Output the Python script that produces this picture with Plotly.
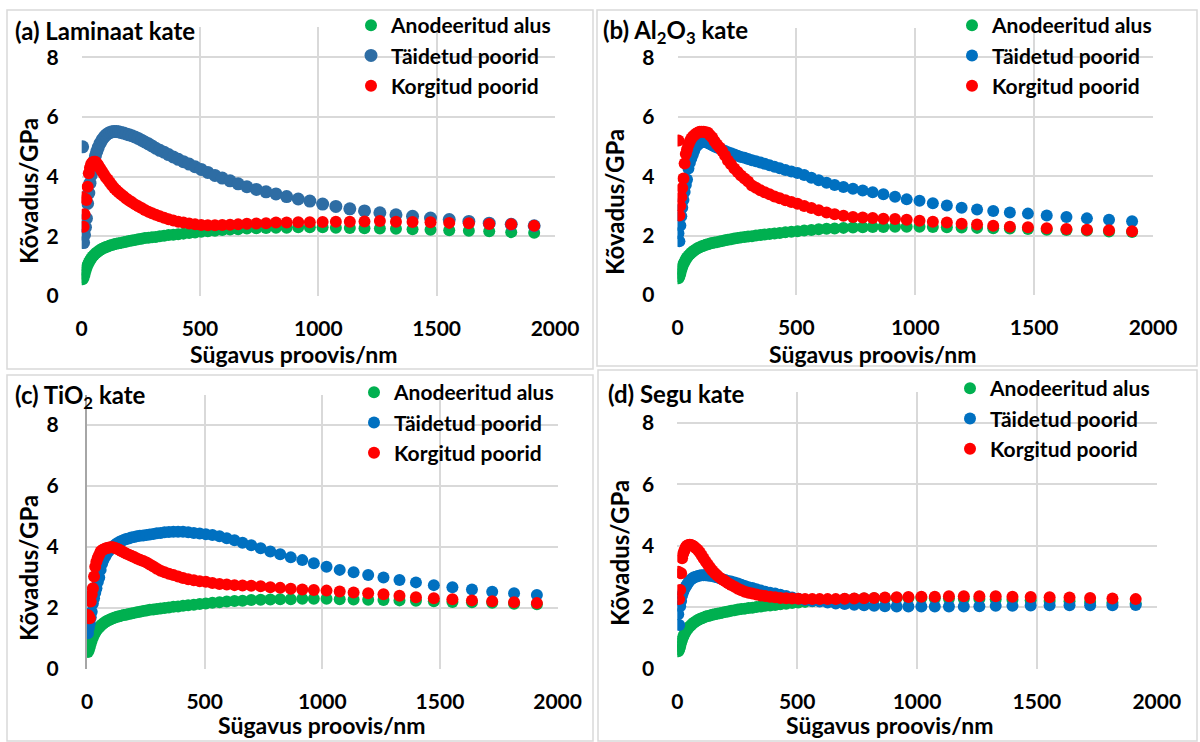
import plotly.graph_objects as go

# ---------------- data ----------------
depth = [4, 8, 12, 16, 20, 25, 30, 35, 40, 46, 52, 58, 64, 70, 78, 86, 94, 102, 110, 119,
         128, 137, 146, 156, 166, 177, 188, 200, 212, 225, 239, 253, 267, 282, 297, 313, 330, 348, 367, 387,
         408, 430, 454, 479, 505, 533, 563, 594, 627, 661, 698, 738, 779, 821, 866, 915, 964, 1018, 1074, 1133,
         1195, 1260, 1328, 1398, 1474, 1553, 1636, 1722, 1815, 1912]

anodeeritud = [0.56, 0.62, 0.72, 0.84, 0.94, 1.04, 1.12, 1.20, 1.26, 1.32, 1.37, 1.42, 1.46, 1.50, 1.54, 1.58, 1.61, 1.64, 1.66, 1.69,
               1.71, 1.73, 1.75, 1.77, 1.78, 1.80, 1.82, 1.84, 1.86, 1.88, 1.90, 1.92, 1.94, 1.95, 1.97, 1.98, 2.00, 2.02, 2.04, 2.05,
               2.07, 2.09, 2.11, 2.13, 2.15, 2.17, 2.19, 2.21, 2.23, 2.24, 2.26, 2.27, 2.28, 2.29, 2.29, 2.30, 2.30, 2.30, 2.29, 2.28,
               2.27, 2.26, 2.25, 2.24, 2.22, 2.20, 2.19, 2.17, 2.14, 2.12]

# (a) Laminaat
a_taidetud = [5.00, 1.79, 2.05, 2.30, 2.60, 3.10, 3.45, 3.78, 4.05, 4.30, 4.52, 4.70, 4.85, 4.98, 5.12, 5.23, 5.32, 5.39, 5.44, 5.48,
              5.50, 5.51, 5.51, 5.50, 5.48, 5.46, 5.43, 5.40, 5.37, 5.33, 5.28, 5.22, 5.16, 5.10, 5.03, 4.95, 4.88, 4.82, 4.74, 4.66,
              4.58, 4.50, 4.42, 4.33, 4.24, 4.14, 4.04, 3.95, 3.86, 3.76, 3.66, 3.57, 3.49, 3.42, 3.33, 3.25, 3.18, 3.08, 3.00, 2.92,
              2.85, 2.79, 2.72, 2.67, 2.61, 2.56, 2.50, 2.44, 2.40, 2.35]
a_korgitud = [3.31, 2.32, 2.74, 3.25, 3.22, 3.66, 4.11, 4.30, 4.42, 4.48, 4.50, 4.50, 4.45, 4.38, 4.28, 4.18, 4.08, 3.98, 3.90, 3.80,
              3.71, 3.62, 3.55, 3.48, 3.41, 3.34, 3.27, 3.20, 3.14, 3.07, 3.01, 2.95, 2.88, 2.82, 2.77, 2.72, 2.67, 2.62, 2.57, 2.53,
              2.49, 2.46, 2.43, 2.40, 2.38, 2.37, 2.37, 2.38, 2.39, 2.40, 2.42, 2.43, 2.44, 2.46, 2.46, 2.47, 2.47, 2.48, 2.49, 2.49,
              2.50, 2.51, 2.49, 2.48, 2.47, 2.45, 2.44, 2.41, 2.40, 2.35]

# (b) Al2O3
b_taidetud = [2.08, 1.81, 2.34, 2.65, 2.94, 3.20, 3.47, 3.70, 3.89, 4.26, 4.45, 4.60, 4.72, 4.85, 4.99, 5.06, 5.12, 5.15, 5.16, 5.15,
              5.12, 5.08, 5.04, 5.00, 4.97, 4.93, 4.89, 4.85, 4.81, 4.77, 4.73, 4.69, 4.65, 4.62, 4.58, 4.54, 4.50, 4.46, 4.42, 4.37,
              4.32, 4.27, 4.21, 4.16, 4.11, 4.04, 3.95, 3.86, 3.78, 3.70, 3.64, 3.58, 3.52, 3.46, 3.39, 3.31, 3.22, 3.17, 3.09, 3.01,
              2.94, 2.88, 2.83, 2.78, 2.74, 2.68, 2.63, 2.58, 2.53, 2.48]
b_korgitud = [5.20, 2.68, 3.00, 3.30, 3.60, 3.92, 4.43, 4.75, 4.90, 5.05, 5.18, 5.27, 5.33, 5.38, 5.43, 5.47, 5.50, 5.50, 5.50, 5.48,
              5.46, 5.38, 5.30, 5.18, 5.07, 4.97, 4.85, 4.70, 4.53, 4.40, 4.26, 4.14, 4.02, 3.92, 3.82, 3.69, 3.61, 3.53, 3.46, 3.39,
              3.32, 3.26, 3.19, 3.13, 3.07, 3.00, 2.93, 2.85, 2.78, 2.72, 2.67, 2.63, 2.61, 2.59, 2.57, 2.56, 2.53, 2.50, 2.47, 2.44,
              2.40, 2.37, 2.33, 2.30, 2.28, 2.25, 2.22, 2.20, 2.18, 2.15]

# (c) TiO2
c_taidetud = [1.17, 1.35, 1.50, 1.70, 1.88, 2.15, 2.32, 2.50, 2.65, 2.85, 3.00, 3.25, 3.45, 3.57, 3.70, 3.80, 3.88, 3.95, 4.02, 4.07,
              4.12, 4.16, 4.20, 4.23, 4.26, 4.28, 4.31, 4.33, 4.35, 4.37, 4.38, 4.39, 4.41, 4.43, 4.45, 4.46, 4.48, 4.49, 4.50, 4.50,
              4.50, 4.48, 4.46, 4.44, 4.42, 4.39, 4.35, 4.29, 4.22, 4.14, 4.06, 3.96, 3.85, 3.76, 3.66, 3.57, 3.47, 3.35, 3.25, 3.17,
              3.08, 3.00, 2.92, 2.84, 2.75, 2.68, 2.61, 2.53, 2.48, 2.43]
c_korgitud = [1.77, 1.72, 1.66, 2.21, 2.45, 2.65, 3.03, 3.35, 3.52, 3.65, 3.75, 3.85, 3.89, 3.92, 3.95, 3.97, 3.98, 3.99, 3.99, 3.97,
              3.94, 3.91, 3.87, 3.83, 3.79, 3.75, 3.71, 3.67, 3.62, 3.58, 3.54, 3.49, 3.43, 3.36, 3.29, 3.22, 3.17, 3.12, 3.08, 3.03,
              2.98, 2.94, 2.91, 2.88, 2.86, 2.82, 2.79, 2.77, 2.75, 2.74, 2.73, 2.71, 2.68, 2.66, 2.63, 2.61, 2.59, 2.57, 2.54, 2.51,
              2.48, 2.45, 2.40, 2.35, 2.32, 2.29, 2.25, 2.22, 2.19, 2.16]

# (d) Segu
d_taidetud = [1.77, 1.42, 2.03, 2.20, 2.39, 2.50, 2.60, 2.66, 2.73, 2.80, 2.87, 2.91, 2.94, 2.97, 2.99, 3.01, 3.03, 3.04, 3.04, 3.04,
              3.03, 3.02, 3.01, 2.99, 2.97, 2.94, 2.91, 2.88, 2.85, 2.83, 2.80, 2.77, 2.73, 2.69, 2.65, 2.62, 2.58, 2.54, 2.50, 2.47,
              2.44, 2.40, 2.36, 2.31, 2.27, 2.23, 2.20, 2.18, 2.15, 2.12, 2.10, 2.08, 2.06, 2.04, 2.03, 2.02, 2.02, 2.02, 2.02, 2.02,
              2.02, 2.03, 2.04, 2.04, 2.05, 2.06, 2.06, 2.06, 2.06, 2.07]
d_korgitud = [3.15, 2.26, 2.56, 3.10, 3.59, 3.75, 3.85, 3.95, 4.00, 4.02, 4.03, 4.02, 4.00, 3.97, 3.92, 3.86, 3.78, 3.68, 3.58, 3.48,
              3.38, 3.28, 3.19, 3.11, 3.04, 2.96, 2.90, 2.84, 2.78, 2.72, 2.66, 2.60, 2.55, 2.50, 2.47, 2.44, 2.41, 2.38, 2.36, 2.34,
              2.32, 2.30, 2.29, 2.28, 2.27, 2.26, 2.26, 2.26, 2.26, 2.26, 2.27, 2.28, 2.29, 2.30, 2.31, 2.32, 2.33, 2.34, 2.34, 2.35,
              2.35, 2.35, 2.35, 2.34, 2.33, 2.32, 2.31, 2.30, 2.28, 2.26]

series_names = ["Anodeeritud alus", "Täidetud poorid", "Korgitud poorid"]
panel_titles = ["<b>(a) Laminaat kate</b>", "<b>(b) Al<sub>2</sub>O<sub>3</sub> kate</b>",
                "<b>(c) TiO<sub>2</sub> kate</b>", "<b>(d) Segu kate</b>"]
x_title = "Sügavus proovis/nm"
y_title = "Kõvadus/GPa"
x_ticks = [0, 500, 1000, 1500, 2000]
y_ticks = [0, 2, 4, 6, 8]

panels = [
    (anodeeritud, a_taidetud, a_korgitud),
    (anodeeritud, b_taidetud, b_korgitud),
    (anodeeritud, c_taidetud, c_korgitud),
    (anodeeritud, d_taidetud, d_korgitud),
]

# ---------------- layout geometry (pixels) ----------------
W, H = 1200, 742
FONT = "Lato"
green = "#00B050"
blues = ["#2E6DA4", "#0070C0", "#0070C0", "#0070C0"]
red = "#FF0000"

# plot areas: x_left, x_right, y_bottom(0), y_top(9)
areas = [
    (81.7, 555.0, 296.0, 27.4),
    (677.5, 1153.0, 295.0, 27.7),
    (87.0, 557.6, 669.0, 394.5),
    (677.3, 1156.8, 668.5, 392.2),
]
boxes = [(7, 10, 593, 369), (597, 10, 1197, 366), (7, 375, 593, 741), (598, 370, 1197, 741)]
title_pos = [(13, 30), (601, 32), (13, 397), (606, 393)]
ytitle_pos = [(28, 191), (615, 202), (28, 568), (619, 553)]
xtitle_pos = [(293, 354), (872, 354), (321, 725), (889, 725)]
legend_pos = [(351, 5), (952, 5), (354, 372), (950, 368)]


def fx(px):
    return px / W


def fy(py):
    return 1 - py / H


fig = go.Figure()
layout = dict(
    width=W, height=H, margin=dict(l=0, r=0, t=0, b=0, autoexpand=False),
    paper_bgcolor="white", plot_bgcolor="white",
    font=dict(family=FONT, color="black"),
    showlegend=True,
)
annotations = []
shapes = []

for i, (g, b, r) in enumerate(panels):
    n = i + 1
    sfx = "" if n == 1 else str(n)
    xa, ya = "x" + sfx, "y" + sfx
    leg = "legend" if n == 1 else "legend" + str(n)
    cols = [green, blues[i], red]
    sizes = [12, 13 if i == 0 else 12, 12]
    for k, ys in enumerate((g, b, r)):
        fig.add_trace(go.Scatter(
            x=depth, y=ys, mode="markers", name=series_names[k],
            marker=dict(color=cols[k], size=sizes[k], line=dict(width=0)),
            xaxis=xa, yaxis=ya, legend=leg,
            hoverinfo="skip",
        ))
    xl, xr, yb, yt = areas[i]
    layout["xaxis" + sfx] = dict(
        domain=[fx(xl), fx(xr)], anchor=ya, range=[0, 2000],
        tickvals=x_ticks, ticktext=[f"{v}" for v in x_ticks],
        showgrid=True, gridcolor="#d9d9d9", gridwidth=1.5, zeroline=False,
        showline=False, ticks="", ticklabelstandoff=18,
        tickfont=dict(family=FONT, size=21, color="black", weight="bold"),
    )
    ydict = dict(
        domain=[fy(yb), fy(yt)], anchor=xa, range=[0, 9],
        tickvals=y_ticks, ticktext=[f"{v}" for v in y_ticks],
        showgrid=True, gridcolor="#d9d9d9", gridwidth=1.5, zeroline=False,
        showline=False, ticks="", ticklabelstandoff=22,
        tickfont=dict(family=FONT, size=21, color="black", weight="bold"),
    )
    if i == 2:
        ydict.update(showline=True, linecolor="#a6a6a6", linewidth=2)
    layout["yaxis" + sfx] = ydict
    lx, ly = legend_pos[i]
    layout[leg] = dict(
        x=fx(lx), y=fy(ly), xanchor="left", yanchor="top",
        bgcolor="rgba(0,0,0,0)", borderwidth=0,
        font=dict(family=FONT, size=21, color="black", weight="bold"),
        itemsizing="trace", traceorder="normal",
    )
    # panel title
    tx, ty = title_pos[i]
    annotations.append(dict(text=panel_titles[i], x=fx(tx), y=fy(ty), xref="paper", yref="paper",
                            xanchor="left", yanchor="middle", showarrow=False,
                            font=dict(family=FONT, size=24, color="black")))
    # axis titles
    ax_, ay_ = ytitle_pos[i]
    annotations.append(dict(text="<b>" + y_title + "</b>", x=fx(ax_), y=fy(ay_), xref="paper", yref="paper",
                            xanchor="center", yanchor="middle", textangle=-90, showarrow=False,
                            font=dict(family=FONT, size=24, color="black")))
    bx, by = xtitle_pos[i]
    annotations.append(dict(text="<b>" + x_title + "</b>", x=fx(bx), y=fy(by), xref="paper", yref="paper",
                            xanchor="center", yanchor="middle", showarrow=False,
                            font=dict(family=FONT, size=23, color="black")))
    x0, y0, x1, y1 = boxes[i]
    shapes.append(dict(type="rect", xref="paper", yref="paper", x0=fx(x0), x1=fx(x1), y0=fy(y1), y1=fy(y0),
                       line=dict(color="#d9d9d9", width=1.5), fillcolor="rgba(0,0,0,0)", layer="below"))

layout["annotations"] = annotations
layout["shapes"] = shapes
fig.update_layout(**layout)
fig.write_html("out.html")
